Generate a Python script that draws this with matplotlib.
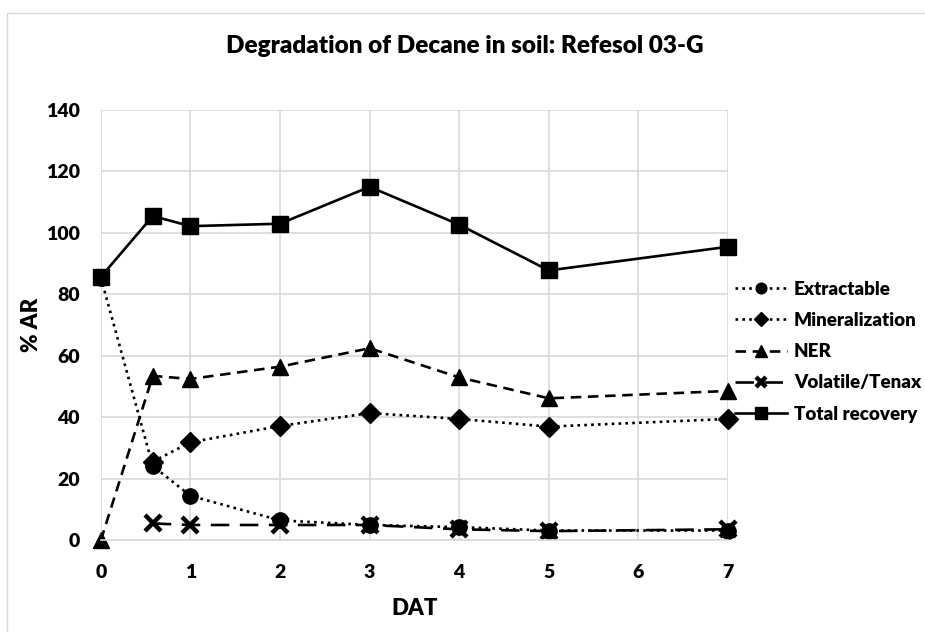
import matplotlib.pyplot as plt
from matplotlib.patches import Rectangle

plt.rcParams['font.family'] = ['Lato', 'DejaVu Sans']
plt.rcParams['font.weight'] = 'heavy'

# DAT values of the sampling points
dat = [0, 0.58, 1, 2, 3, 4, 5, 7]
dat_late = [0.58, 1, 2, 3, 4, 5, 7]

extractable = [85.5, 24.2, 14.5, 6.5, 5.0, 4.3, 3.2, 3.2]
mineralization = [25.6, 31.9, 37.2, 41.4, 39.5, 37.0, 39.5]
ner = [0.0, 53.5, 52.5, 56.5, 62.5, 53.0, 46.2, 48.6]
volatile = [5.5, 5.0, 5.0, 5.0, 3.6, 3.0, 3.6]
total = [85.7, 105.5, 102.2, 103.0, 115.0, 102.7, 87.8, 95.5]

x_ticks = [0, 1, 2, 3, 4, 5, 6, 7]
y_ticks = [0, 20, 40, 60, 80, 100, 120, 140]

fig = plt.figure(figsize=(9.25, 6.32), dpi=100)
ax = fig.add_axes([0.109, 0.145, 0.678, 0.681])

k = dict(color='black', markerfacecolor='black', markeredgecolor='black', linewidth=1.9, clip_on=False)
ax.plot(dat, extractable, linestyle=(0, (1, 1.6)), marker='o', markersize=11, label='Extractable', **k)
ax.plot(dat_late, mineralization, linestyle=(0, (1, 1.6)), marker='D', markersize=10, label='Mineralization', **k)
ax.plot(dat, ner, linestyle=(0, (4, 2.5)), marker='^', markersize=12, label='NER', **k)
ax.plot(dat_late, volatile, linestyle=(0, (7, 4)), marker='x', markersize=11, markeredgewidth=3.2,
        label='Volatile/Tenax', **k)
ax.plot(dat, total, linestyle='-', marker='s', markersize=11.5, label='Total recovery', **k)

ax.set_xlim(0, 7)
ax.set_ylim(0, 140)
ax.set_xticks(x_ticks)
ax.set_yticks(y_ticks)
ax.tick_params(axis='y', length=0, labelsize=14, pad=15)
ax.tick_params(axis='x', length=0, labelsize=14, pad=17)
ax.grid(True, color='#d9d9d9', linewidth=1.2)
ax.set_axisbelow(True)
for s in ['top', 'right', 'left']:
    ax.spines[s].set_visible(False)
ax.spines['bottom'].set_color('#d9d9d9')
ax.spines['bottom'].set_linewidth(1.2)

ax.set_xlabel('DAT', fontsize=16, fontweight='heavy', labelpad=12)
ax.set_ylabel('% AR', fontsize=16, fontweight='heavy', labelpad=3)
fig.text(0.502, 0.928, 'Degradation of Decane in soil: Refesol 03-G', ha='center', va='center',
         fontsize=17.5)

leg = fig.legend(loc='upper left', bbox_to_anchor=(735 / 925, 0.556), frameon=False, fontsize=13.5,
                 borderaxespad=0, borderpad=0, handlelength=2.75, handletextpad=0.4,
                 labelspacing=0.76, markerscale=0.7)

fig.patches.append(Rectangle((7 / 925, -0.05), 1.1, 1.05 - 13 / 632, transform=fig.transFigure,
                             fill=False, edgecolor='#d9d9d9', linewidth=1))

fig.savefig('out.png', dpi=100)
